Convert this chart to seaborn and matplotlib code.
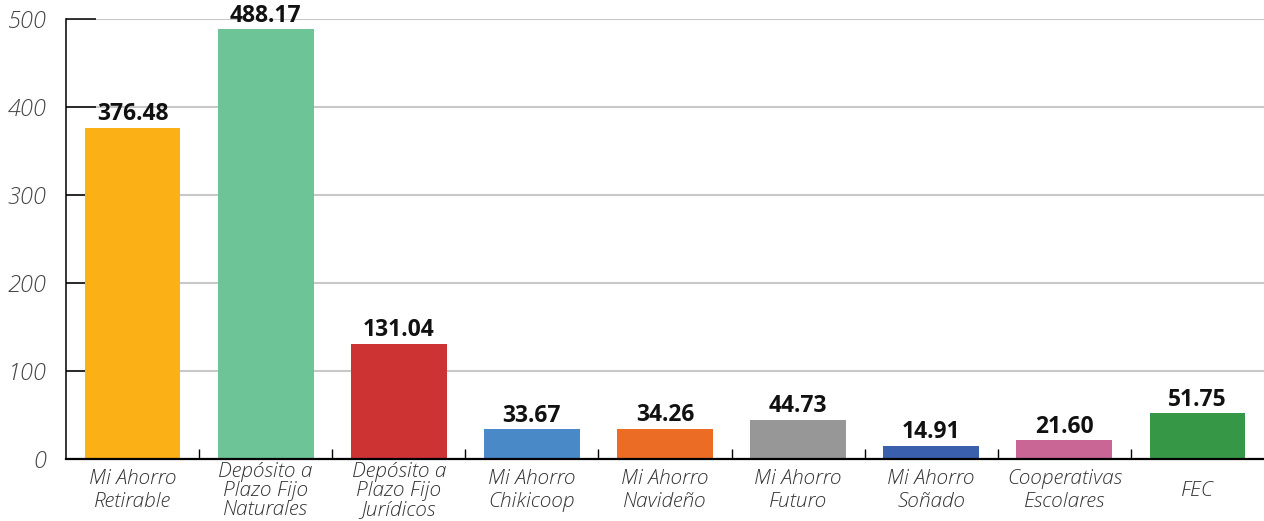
import matplotlib
matplotlib.use('Agg')
import matplotlib.pyplot as plt
import seaborn as sns
import pandas as pd

# --- Datos ---
productos = ['Mi Ahorro\nRetirable', 'Depósito a\nPlazo Fijo\nNaturales', 'Depósito a\nPlazo Fijo\nJurídicos',
             'Mi Ahorro\nChikicoop', 'Mi Ahorro\nNavideño', 'Mi Ahorro\nFuturo',
             'Mi Ahorro\nSoñado', 'Cooperativas\nEscolares', 'FEC']
montos = [376.48, 488.17, 131.04, 33.67, 34.26, 44.73, 14.91, 21.60, 51.75]
colores = ['#FBB116', '#6CC497', '#CE3334', '#4A89C8', '#EA6C25',
           '#979797', '#3A5FAD', '#C96695', '#369846']
y_ticks = [0, 100, 200, 300, 400, 500]

sns.set_style('white')
plt.rcParams['font.family'] = ['Open Sans', 'DejaVu Sans']

df = pd.DataFrame({'producto': productos, 'monto': montos})

fig = plt.figure(figsize=(12.64, 5.21), dpi=100)
ax = fig.add_axes([66 / 1264, 62 / 521, 1 - 66 / 1264, 440 / 521])

sns.barplot(data=df, x='producto', y='monto', hue='producto', palette=colores,
            legend=False, width=0.72, ax=ax, saturation=1, linewidth=0,
            edgecolor='none')

# etiquetas de valor
for cont in ax.containers:
    lbls = ax.bar_label(cont, fmt='%.2f', padding=1, fontsize=16.5, fontweight='bold',
                        color='#111111')
    for t in lbls:
        t.set_clip_on(False)

ax.set_xlim(-0.5, len(productos) - 0.5)
ax.set_ylim(0, 500)
ax.set_xlabel('')
ax.set_ylabel('')

# rejilla
ax.set_yticks(y_ticks)
ax.yaxis.grid(True, color='#C8C8C8', linewidth=1.5)
ax.set_axisbelow(True)
ax.tick_params(axis='y', direction='in', length=21.6, width=1.1, color='black',
               pad=14, labelsize=17, labelcolor='#444444', left=True)
for t in ax.get_yticklabels():
    t.set_fontstyle('italic')
    t.set_fontweight('light')

# eje x
ax.set_xticks(range(len(productos)))
ax.set_xticklabels(productos)
ax.tick_params(axis='x', length=0, pad=23, labelsize=15, labelcolor='#333333')
for t in ax.get_xticklabels():
    t.set_fontstyle('italic')
    t.set_fontweight('light')
    t.set_va('center')
    n = t.get_text().count('\n')
    t.set_linespacing(0.92 if n == 2 else 1.2)
ax.set_xticks([i + 0.5 for i in range(len(productos) - 1)], minor=True)
ax.tick_params(axis='x', which='minor', direction='in', length=7.5, width=1,
               color='black', bottom=True)

for s in ['top', 'right']:
    ax.spines[s].set_visible(False)
ax.spines['left'].set_color('black')
ax.spines['left'].set_linewidth(1.1)
ax.spines['bottom'].set_color('black')
ax.spines['bottom'].set_linewidth(1.6)

fig.savefig('out.png', dpi=100)
